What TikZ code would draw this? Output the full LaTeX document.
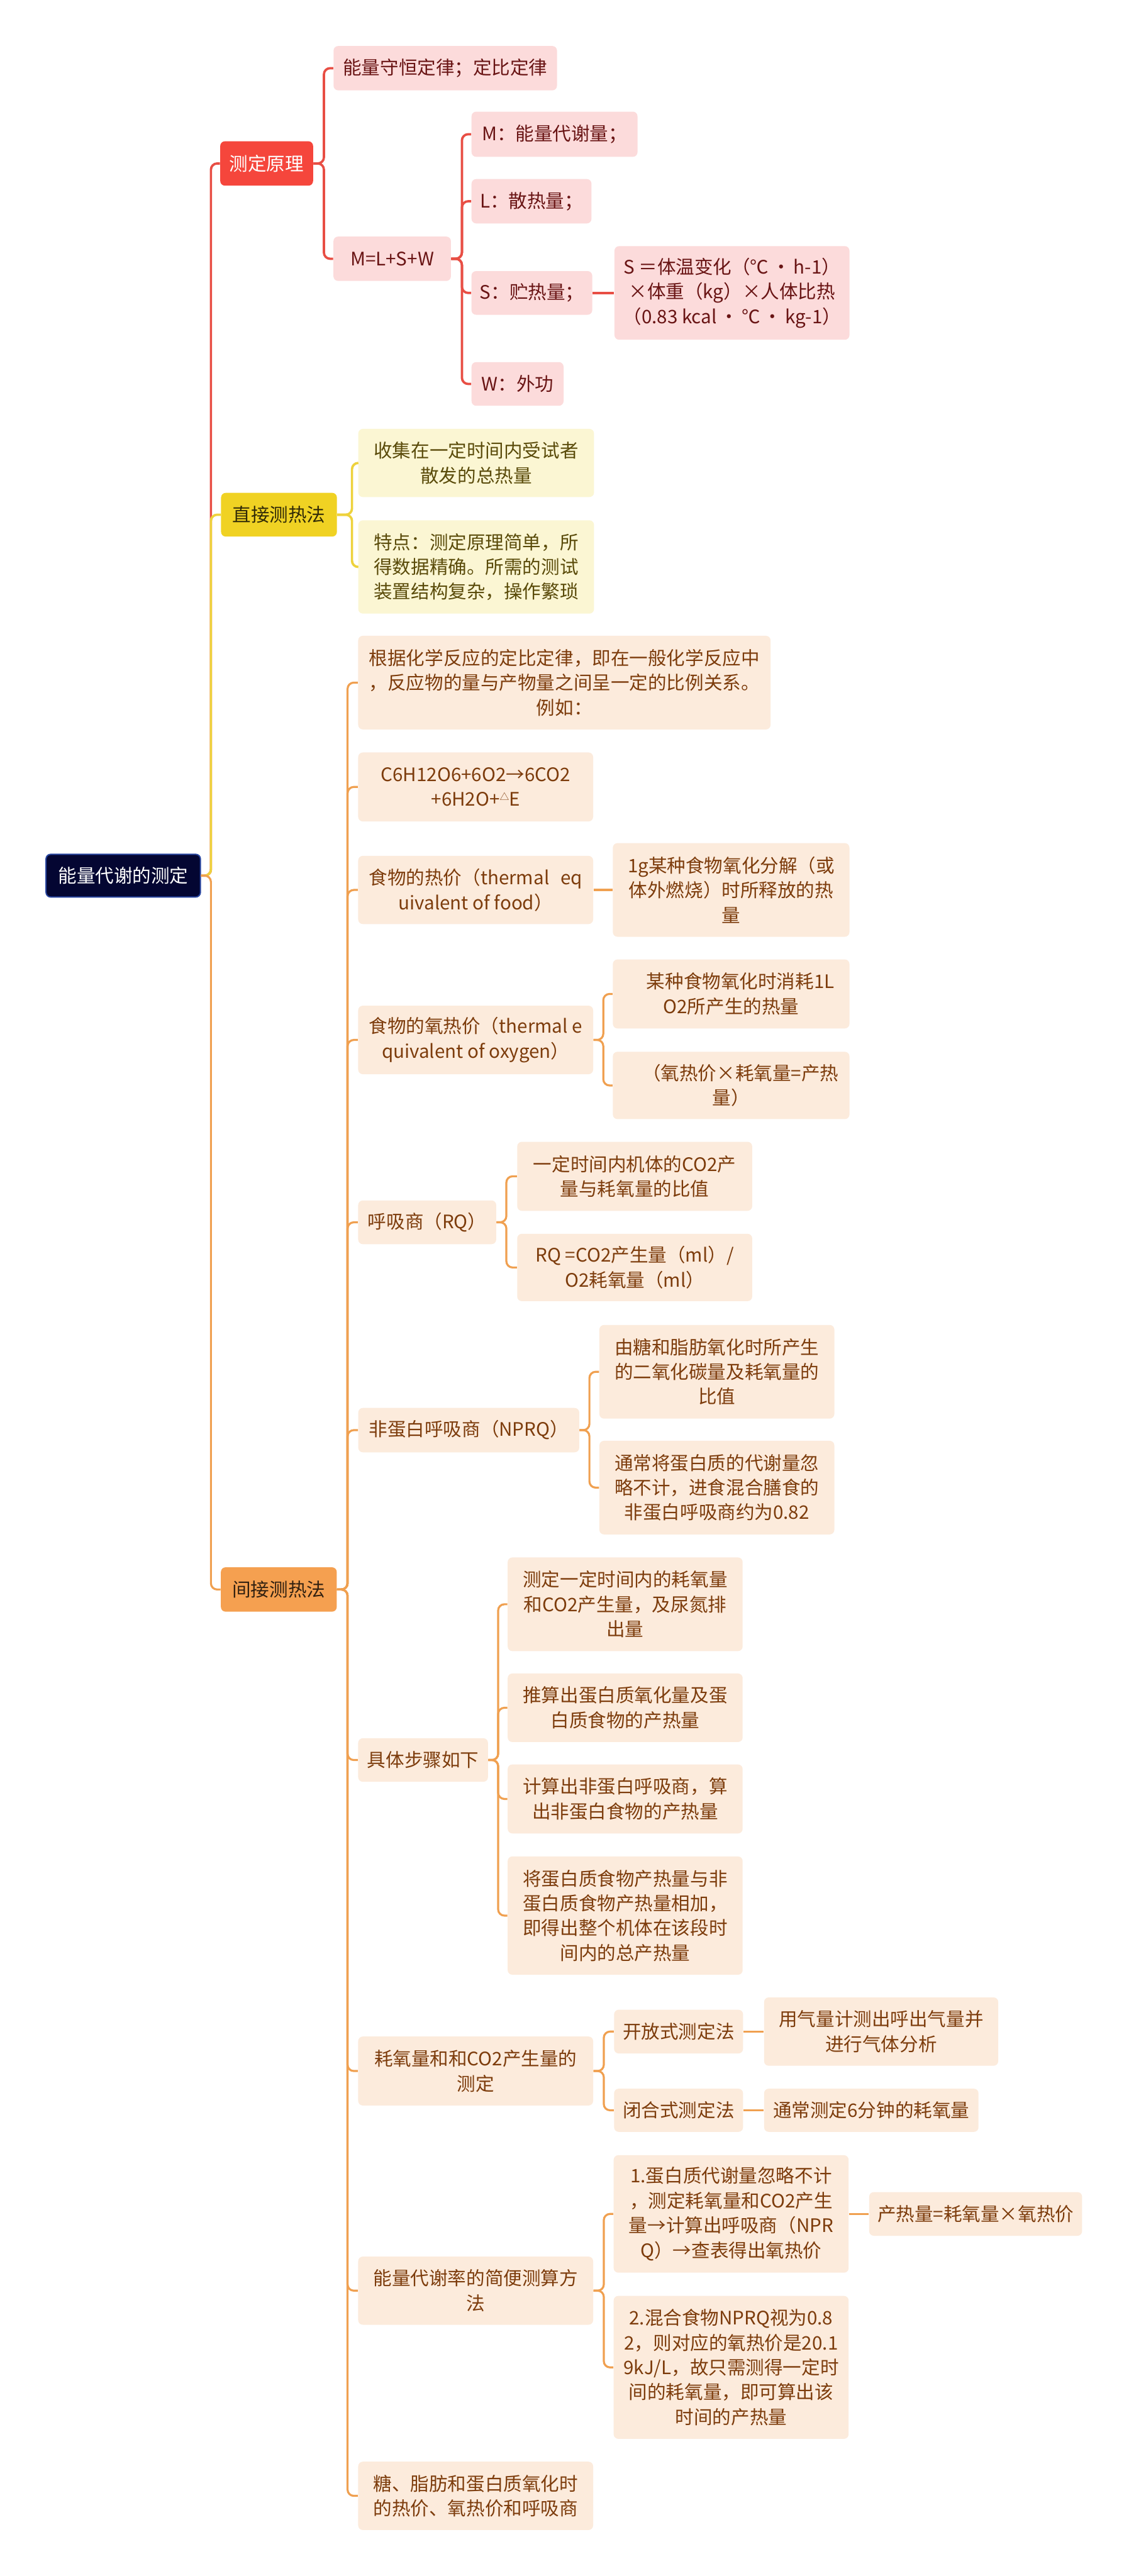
\documentclass[tikz,border=0pt]{standalone}
\usepackage{fontspec}
\setmainfont{Noto Sans CJK SC}
\usepackage{xcolor}
\usepackage{tikz}
\usetikzlibrary{positioning, calc}

\definecolor{rootfill}{RGB}{4,6,50}
\definecolor{rootdraw}{RGB}{40,70,160}
\definecolor{redfill}{RGB}{245,70,60}
\definecolor{redlt}{RGB}{252,219,219}
\definecolor{redtx}{RGB}{105,20,20}
\definecolor{redln}{RGB}{232,78,68}
\definecolor{yelfill}{RGB}{240,210,35}
\definecolor{yellt}{RGB}{251,246,211}
\definecolor{yeltx}{RGB}{90,75,10}
\definecolor{yelln}{RGB}{238,210,60}
\definecolor{orgfill}{RGB}{245,160,80}
\definecolor{orglt}{RGB}{252,235,220}
\definecolor{orgtx}{RGB}{125,60,12}
\definecolor{orgln}{RGB}{240,160,80}

\newcommand{\pxu}{0.037263cm}

\begin{document}
\begin{tikzpicture}[x=0.037263cm, y=-0.037263cm,
        font=\fontsize{12}{16}\selectfont,
        box/.style={rectangle, rounded corners=3pt, align=center, inner sep=1pt},
        sz/.style 2 args={minimum width=#1*\pxu, minimum height=#2*\pxu},
        topic/.style={box, fill=rootfill, draw=rootdraw, line width=0.8pt, text=white},
        redhead/.style={box, fill=redfill, text=white},
        redleaf/.style={box, fill=redlt, text=redtx},
        yelhead/.style={box, fill=yelfill, text=black!80!yelfill},
        yelleaf/.style={box, fill=yellt, text=yeltx},
        orghead/.style={box, fill=orgfill, text=black!80!orgfill},
        orgleaf/.style={box, fill=orglt, text=orgtx},
        redline/.style={draw=redln, line width=1.5pt, rounded corners=4pt},
        yelline/.style={draw=yelln, line width=1.5pt, rounded corners=4pt},
        orgline/.style={draw=orgln, line width=1.3pt, rounded corners=4pt}]
        \useasboundingbox (0,0) rectangle (687,1568);
        \fill[white] (0,0) rectangle (687,1568);

        \node (root) [topic, sz={94}{26}] at (75,533) {能量代谢的测定};

        \node (yuanli) [redhead, sz={56.5}{27}] at (162.3,99.5) {测定原理};
        \node (zhijie) [yelhead, sz={70.5}{26.6}] at (169.8,313.3) {直接测热法};
        \node (jianjie) [orghead, sz={70.5}{27}] at (169.7,967.5) {间接测热法};

        \node (shouheng) [redleaf, sz={136}{27}] at (271,41.5) {能量守恒定律；定比定律};
        \node (mlsw) [redleaf, sz={71.5}{27}] at (238.7,157.5) {M=L+S+W};
        \node (mm) [redleaf, sz={101}{27.5}] at (337.5,81.7) {M：能量代谢量；};
        \node (ll) [redleaf, sz={73}{27}] at (323.5,122.5) {L：散热量；};
        \node (ss) [redleaf, sz={73.5}{26.6}] at (323.7,178.3) {S：贮热量；};
        \node (ww) [redleaf, sz={56}{26.6}] at (315,233.7) {W：外功};
        \node (sformula) [redleaf, sz={143}{57}] at (445.5,178.3) {S ＝体温变化（℃\,·\,h-1）\\ ×体重（kg）×人体比热\\（0.83 kcal\,·\,℃\,·\,kg-1）};

        \node (shouji) [yelleaf, sz={143.5}{41.5}] at (289.8,281.8) {收集在一定时间内受试者\\散发的总热量};
        \node (tedian) [yelleaf, sz={143.5}{56.8}] at (289.8,345.1) {特点：测定原理简单，所\\得数据精确。所需的测试\\装置结构复杂，操作繁琐};

        \node (genju) [orgleaf, sz={251}{57}] at (343.5,415.5) {根据化学反应的定比定律，即在一般化学反应中\\，反应物的量与产物量之间呈一定的比例关系。\\例如：};
        \node (fangcheng) [orgleaf, sz={143}{42}] at (289.5,479) {C6H12O6+6O2→6CO2\\+6H2O+\raisebox{0.6ex}{\fontsize{6}{6}\selectfont △}E};
        \node (rejia) [orgleaf, sz={143}{41.5}] at (289.5,541.7) {食物的热价（thermal\hspace{0.6em}eq\\uivalent of food）};
        \node (rejiadef) [orgleaf, sz={144}{57}] at (445,541.7) {1g某种食物氧化分解（或\\体外燃烧）时所释放的热\\量};
        \node (yangrejia) [orgleaf, sz={143}{41.7}] at (289.5,633) {食物的氧热价（thermal e\\quivalent of oxygen）};
        \node (yangdef) [orgleaf, sz={144}{42}] at (445,605) {\hspace*{1em}某种食物氧化时消耗1L\\O2所产生的热量};
        \node (yanggongshi) [orgleaf, sz={144}{41}] at (445,660.7) {\hspace*{1em}（氧热价×耗氧量=产热\\量）};
        \node (rq) [orgleaf, sz={84}{26.6}] at (260,744) {呼吸商（RQ）};
        \node (rqdef) [orgleaf, sz={143}{42}] at (386.3,716) {一定时间内机体的CO2产\\量与耗氧量的比值};
        \node (rqformula) [orgleaf, sz={143}{41}] at (386.3,771.5) {RQ =CO2产生量（ml）/\\O2耗氧量（ml）};
        \node (nprq) [orgleaf, sz={134.5}{27}] at (285.3,870.5) {非蛋白呼吸商（NPRQ）};
        \node (nprqa) [orgleaf, sz={143}{57}] at (436.3,835) {由糖和脂肪氧化时所产生\\的二氧化碳量及耗氧量的\\比值};
        \node (nprqb) [orgleaf, sz={143}{57}] at (436.3,905.5) {通常将蛋白质的代谢量忽\\略不计，进食混合膳食的\\非蛋白呼吸商约为0.82};
        \node (buzhou) [orgleaf, sz={79}{26.5}] at (257.5,1071.3) {具体步骤如下};
        \node (bza) [orgleaf, sz={143}{57}] at (380.5,976.5) {测定一定时间内的耗氧量\\和CO2产生量，及尿氮排\\出量};
        \node (bzb) [orgleaf, sz={143}{41.7}] at (380.5,1039.5) {推算出蛋白质氧化量及蛋\\白质食物的产热量};
        \node (bzc) [orgleaf, sz={143}{42}] at (380.5,1095) {计算出非蛋白呼吸商，算\\出非蛋白食物的产热量};
        \node (bzd) [orgleaf, sz={143}{72}] at (380.5,1166) {将蛋白质食物产热量与非\\蛋白质食物产热量相加，\\即得出整个机体在该段时\\间内的总产热量};
        \node (haoyang) [orgleaf, sz={143}{42}] at (289.5,1260.6) {耗氧量和和CO2产生量的\\测定};
        \node (kaifang) [orgleaf, sz={78.5}{26.6}] at (413,1236.6) {开放式测定法};
        \node (kfdef) [orgleaf, sz={142.5}{41.6}] at (536.3,1236.6) {用气量计测出呼出气量并\\进行气体分析};
        \node (bihe) [orgleaf, sz={78.5}{26.3}] at (413,1284.5) {闭合式测定法};
        \node (bhdef) [orgleaf, sz={130.5}{26.3}] at (530.3,1284.5) {通常测定6分钟的耗氧量};
        \node (jianbian) [orgleaf, sz={143}{41.5}] at (289.5,1394.3) {能量代谢率的简便测算方\\法};
        \node (jba) [orgleaf, sz={143}{71.5}] at (445,1347.6) {1.蛋白质代谢量忽略不计\\，测定耗氧量和CO2产生\\量→计算出呼吸商（NPR\\Q）→查表得出氧热价};
        \node (chanre) [orgleaf, sz={129.6}{26.6}] at (593.8,1347.6) {产热量=耗氧量×氧热价};
        \node (jbb) [orgleaf, sz={143}{87}] at (445,1441) {2.混合食物NPRQ视为0.8\\2，则对应的氧热价是20.1\\9kJ/L，故只需测得一定时\\间的耗氧量，即可算出该\\时间的产热量};
        \node (tang) [orgleaf, sz={143}{41.6}] at (289.5,1519.2) {糖、脂肪和蛋白质氧化时\\的热价、氧热价和呼吸商};

        \draw[redline] (root.east) -- ++(6,0) |- (yuanli.west);
        \draw[yelline] (root.east) -- ++(6,0) |- (zhijie.west);
        \draw[orgline] (root.east) -- ++(6,0) |- (jianjie.west);

        \draw[redline] (yuanli.east) -- ++(6.4,0) |- (shouheng.west);
        \draw[redline] (yuanli.east) -- ++(6.4,0) |- (mlsw.west);
        \draw[redline] (mlsw.east) -- ++(6.5,0) |- (mm.west);
        \draw[redline] (mlsw.east) -- ++(6.5,0) |- (ll.west);
        \draw[redline] (mlsw.east) -- ++(6.5,0) |- (ss.west);
        \draw[redline] (mlsw.east) -- ++(6.5,0) |- (ww.west);
        \draw[redline] (ss.east) -- (sformula.west);

        \draw[yelline] (zhijie.east) -- ++(9,0) |- (shouji.west);
        \draw[yelline] (zhijie.east) -- ++(9,0) |- (tedian.west);

        \draw[orgline] (jianjie.east) -- ++(6.4,0) |- (genju.west);
        \draw[orgline] (jianjie.east) -- ++(6.4,0) |- (fangcheng.west);
        \draw[orgline] (jianjie.east) -- ++(6.4,0) |- (rejia.west);
        \draw[orgline] (jianjie.east) -- ++(6.4,0) |- (yangrejia.west);
        \draw[orgline] (jianjie.east) -- ++(6.4,0) |- (rq.west);
        \draw[orgline] (jianjie.east) -- ++(6.4,0) |- (nprq.west);
        \draw[orgline] (jianjie.east) -- ++(6.4,0) |- (buzhou.west);
        \draw[orgline] (jianjie.east) -- ++(6.4,0) |- (haoyang.west);
        \draw[orgline] (jianjie.east) -- ++(6.4,0) |- (jianbian.west);
        \draw[orgline] (jianjie.east) -- ++(6.4,0) |- (tang.west);

        \draw[orgline] (rejia.east) -- (rejiadef.west);
        \draw[orgline] (yangrejia.east) -- ++(6,0) |- (yangdef.west);
        \draw[orgline] (yangrejia.east) -- ++(6,0) |- (yanggongshi.west);
        \draw[orgline] (rq.east) -- ++(6,0) |- (rqdef.west);
        \draw[orgline] (rq.east) -- ++(6,0) |- (rqformula.west);
        \draw[orgline] (nprq.east) -- ++(6,0) |- (nprqa.west);
        \draw[orgline] (nprq.east) -- ++(6,0) |- (nprqb.west);
        \draw[orgline] (buzhou.east) -- ++(6,0) |- (bza.west);
        \draw[orgline] (buzhou.east) -- ++(6,0) |- (bzb.west);
        \draw[orgline] (buzhou.east) -- ++(6,0) |- (bzc.west);
        \draw[orgline] (buzhou.east) -- ++(6,0) |- (bzd.west);
        \draw[orgline] (haoyang.east) -- ++(6.3,0) |- (kaifang.west);
        \draw[orgline] (haoyang.east) -- ++(6.3,0) |- (bihe.west);
        \draw[orgline] (kaifang.east) -- (kfdef.west);
        \draw[orgline] (bihe.east) -- (bhdef.west);
        \draw[orgline] (jianbian.east) -- ++(6.3,0) |- (jba.west);
        \draw[orgline] (jianbian.east) -- ++(6.3,0) |- (jbb.west);
        \draw[orgline] (jba.east) -- (chanre.west);
    \end{tikzpicture}
\end{document}
